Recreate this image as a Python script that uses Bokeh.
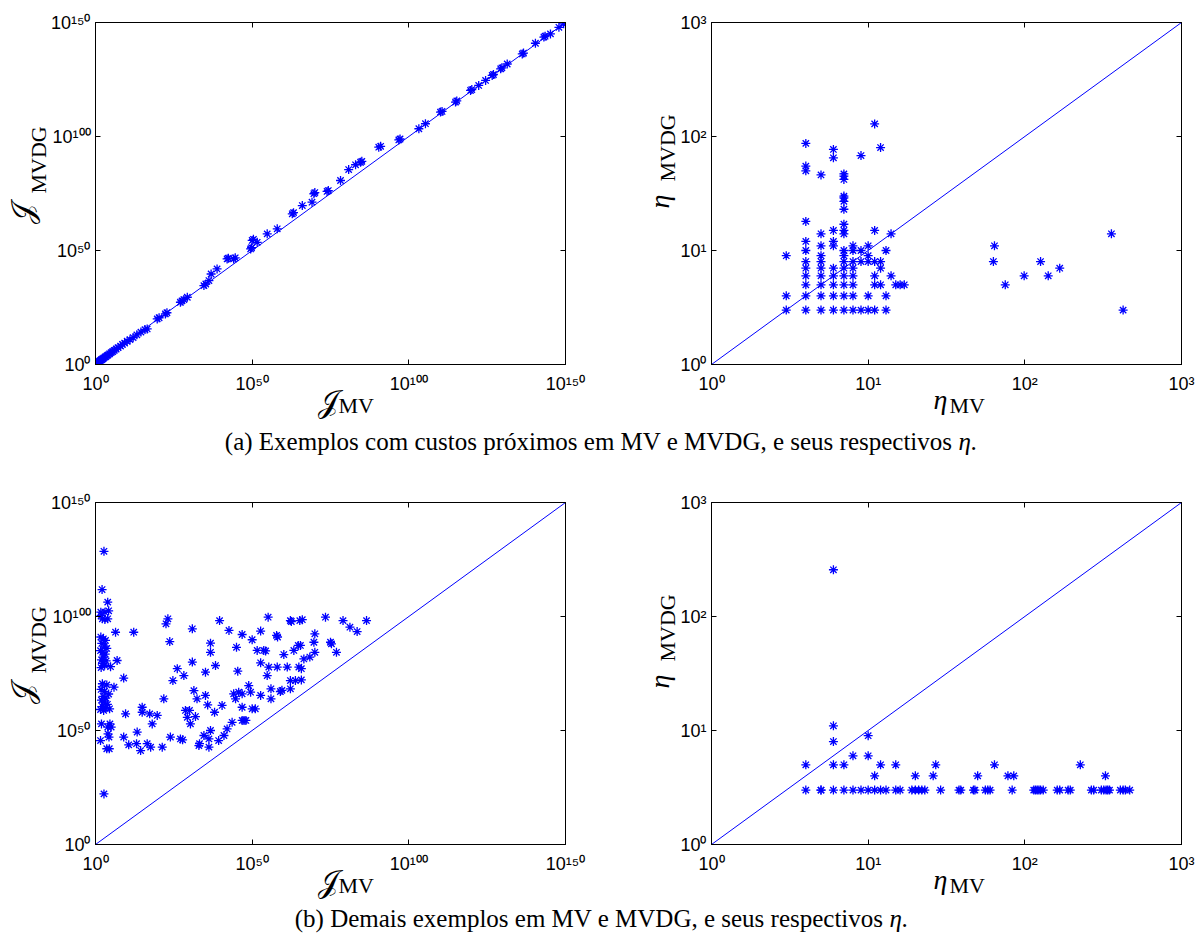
import math
from bokeh.plotting import figure
from bokeh.models import Range1d, FixedTicker, LogAxis, GridBox, CustomLabelingPolicy
from bokeh.layouts import column, row
from bokeh.core.properties import value
from bokeh.embed import file_html
from bokeh.resources import INLINE

# ---------------- data (log10 exponents for the cost panels) ----------------
# (a) left: J_MV vs J_MVDG (log10 values)
a_cost_mv_exp = [0.2, 0.4, 0.6, 0.8, 1.0, 1.3, 1.5, 1.8, 2.0, 2.3, 2.6, 3.0, 3.3, 3.7, 4.0, 4.5,
                 5.0, 5.5, 6.0, 6.6, 7.2, 8.0, 8.6, 9.3, 10.1, 11.0, 12.0, 13.2, 14.5, 15.8, 16.5,
                 19.7, 20.3, 22.3, 22.8, 27.1, 27.6, 28.2, 29.3, 34.6, 35.2, 36.2, 36.9, 38.8,
                 42.0, 42.4, 44.1, 44.6, 49.5, 49.8, 50.0, 50.4, 51.6, 54.8, 58.0, 62.8, 63.2,
                 66.0, 69.1, 69.7, 70.0, 73.9, 74.3, 78.2, 80.8, 83.0, 84.6, 85.0, 90.4, 91.0,
                 96.8, 97.2, 103.2, 105.3, 110.1, 110.6, 114.9, 115.3, 119.7, 120.1, 122.3,
                 124.5, 126.6, 127.0, 129.3, 129.7, 131.4, 136.2, 136.6, 140.4, 143.1, 143.5,
                 145.2, 147.9, 149.4]
a_cost_mvdg_exp = [0.3, 0.5, 0.7, 1.0, 1.2, 1.4, 1.7, 2.0, 2.2, 2.5, 2.8, 3.2, 3.5, 3.9, 4.2, 4.7,
                   5.2, 5.7, 6.2, 6.8, 7.4, 8.1, 8.8, 9.4, 10.2, 10.9, 11.8, 13.0, 14.2, 15.3, 15.6,
                   20.0, 20.5, 22.2, 22.7, 27.3, 27.9, 28.5, 29.5, 34.6, 35.3, 36.8, 39.7, 41.9,
                   46.3, 46.6, 46.3, 46.8, 50.7, 51.2, 54.4, 54.9, 53.6, 57.3, 59.5, 66.1, 66.6,
                   69.7, 71.2, 74.9, 75.4, 75.9, 76.3, 80.7, 85.5, 87.6, 88.7, 89.1, 95.3, 95.7,
                   98.5, 98.9, 103.4, 105.6, 110.7, 111.0, 115.1, 115.6, 120.2, 120.6, 122.4,
                   124.6, 126.8, 127.2, 129.7, 130.1, 131.8, 136.2, 136.6, 140.9, 143.6, 144.0,
                   145.0, 147.9, 149.4]

# (a) right: eta_MV vs eta_MVDG
a_eta_mv = [3, 3, 3,
            4, 4, 4, 4, 4, 4, 4, 4, 4, 4, 4, 4,
            5, 5, 5, 5, 5, 5, 5, 5, 5, 5,
            6, 6, 6, 6, 6, 6, 6, 6, 6, 6,
            7, 7, 7, 7, 7, 7, 7, 7, 7, 7, 7, 7, 7, 7, 7, 7, 7, 7,
            8, 8, 8, 8, 8, 8, 8, 8,
            9, 9, 9, 9,
            10, 10, 10, 10, 10,
            11, 11, 11, 11, 11, 11,
            12, 12, 12, 12,
            13, 13, 13,
            14, 14,
            15, 16, 17,
            63, 64, 75, 99, 126, 141, 167, 357, 424]
a_eta_mvdg = [3, 4, 9,
              3, 4, 5, 6, 7, 8, 10, 12, 18, 50, 55, 87,
              3, 4, 5, 6, 7, 8, 9, 11, 14, 46,
              3, 4, 5, 6, 7, 11, 12, 15, 65, 77,
              3, 4, 5, 6, 7, 8, 9, 10, 14, 15, 17, 23, 27, 29, 30, 42, 45, 47,
              3, 4, 5, 6, 7, 8, 10, 11,
              3, 8, 10, 68,
              3, 4, 8, 9, 11,
              3, 5, 6, 8, 15, 129,
              5, 7, 8, 80,
              3, 4, 10,
              6, 14,
              5, 5, 5,
              8, 11, 5, 6, 8, 6, 7, 14, 3]

# (b) left: J_MV vs J_MVDG (log10 values)
b_cost_mv_exp = [2.7, 2.1, 3.9, 1.7, 3.0, 4.2, 1.8, 2.2, 3.0, 3.9, 6.4,
                 1.7, 2.5, 3.2, 2.0, 2.8, 3.6, 1.6, 2.3, 3.1, 2.6, 1.9, 3.4, 2.2, 2.9, 4.8, 6.9, 1.8,
                 2.2, 3.6, 5.9, 1.8, 2.9, 4.2, 2.4, 3.3, 1.9, 2.8, 3.8, 2.2, 3.2, 1.6, 4.5, 2.6,
                 1.9, 4.6, 3.9, 5.0, 4.3, 1.6, 4.0, 3.6, 4.4, 2.7,
                 9.0, 9.6, 9.0, 10.6, 12.2, 13.3, 13.1, 14.4, 14.9, 14.9, 16.5, 17.6, 17.3, 18.1,
                 19.7, 21.3, 21.8, 22.5, 23.1, 23.7, 23.9, 24.7, 26.1, 27.1, 27.8, 28.2, 28.7,
                 29.3, 30.0, 30.3, 30.9, 30.9, 31.4, 31.9, 32.4, 33.0, 33.2, 34.6, 35.1, 35.1,
                 35.8, 36.2, 36.2, 36.7, 36.7, 36.7, 38.0, 38.3, 39.3, 39.6, 40.4, 41.0, 42.0,
                 42.6, 43.6, 44.1, 44.7, 45.0, 45.4, 45.7, 46.8, 46.8, 46.8, 46.8, 47.4, 48.0,
                 48.9, 49.5, 50.0, 50.0, 51.0, 51.6, 52.7, 52.7, 52.7, 53.7, 54.3, 54.8, 55.1,
                 55.3, 56.0, 56.0, 57.8, 58.1, 58.0, 59.0, 59.5, 60.1, 61.2, 62.2, 62.2, 62.2,
                 62.5, 63.3, 63.8, 64.7, 64.9, 65.2,
                 66.0, 65.4, 65.7, 65.7, 66.5, 68.4, 70.0, 69.7, 70.0, 73.4, 75.0, 75.3, 76.9,
                 79.0, 81.2, 83.5, 86.5]
b_cost_mvdg_exp = [128.6, 111.8, 106.3, 101.9, 101.9, 102.5, 100.4, 99.0, 98.7, 99.0, 93.1,
                   91.0, 90.2, 89.5, 88.2, 87.0, 86.0, 85.0, 84.3, 83.5, 82.2, 81.0, 80.5, 79.4,
                   78.6, 78.0, 80.7, 77.6,
                   70.5, 70.0, 69.0, 68.0, 67.2, 66.0, 65.0, 64.2, 63.3, 62.5, 61.5, 60.5, 59.8,
                   59.2, 59.5, 58.8,
                   52.9, 52.9, 51.5, 51.5, 47.1, 45.6, 48.5, 42.0, 42.0, 22.2,
                   73.0, 57.3, 47.1, 43.7, 93.1, 49.3, 44.2, 41.2, 60.2, 58.0, 44.2, 42.7, 57.3,
                   52.9, 56.6, 42.7, 63.9, 96.8, 99.0, 89.0, 47.1, 71.9, 77.1, 46.3, 45.9, 74.1,
                   58.8, 55.8, 58.8, 52.9, 80.0, 94.6, 67.5, 56.1, 63.9, 43.4, 44.2, 47.8, 65.4,
                   75.6, 61.2, 42.7, 46.3, 88.3, 84.3, 50.0, 58.0, 78.5, 45.6, 98.2, 61.0, 47.8,
                   50.7, 93.9, 53.6, 66.1, 63.9, 86.5, 76.0, 66.8, 92.1, 60.2, 66.1, 54.4, 54.4,
                   54.4, 69.7, 66.8, 59.5, 89.8, 59.5, 85.1, 65.4, 79.7, 93.6, 85.1, 84.9, 74.1,
                   99.7, 77.8, 68.3, 63.9, 91.7, 91.0, 77.8, 67.1, 67.6, 83.3, 77.8, 71.9, 68.3,
                   98.2, 97.8, 85.1, 71.9, 87.3, 77.8, 98.2,
                   98.6, 87.3, 77.1, 72.2, 81.4, 82.2, 92.4, 88.7, 84.3, 99.7, 88.7, 88.0, 84.3,
                   98.2, 95.3, 93.4, 98.2]

# (b) right: eta_MV vs eta_MVDG
b_eta_mv = [6, 6, 6, 6, 4, 7, 8, 10, 10, 11, 12, 15,
            4, 5, 5, 6, 7, 8, 9, 10, 11, 12, 13, 15, 16, 19, 20, 21, 22, 23, 29, 38, 39, 47, 48,
            56, 58, 60, 83, 114, 117, 120, 123, 126, 131, 161, 167, 189, 195, 266, 275, 308,
            319, 330, 338, 347, 407, 424, 438, 467,
            20, 26, 50, 78, 85, 327,
            27, 64, 226]
b_eta_mvdg = [257, 11, 8, 5, 5, 5, 6, 9, 6, 4, 5, 5,
              3, 3, 3, 3, 3, 3, 3, 3, 3, 3, 3, 3, 3, 3, 3, 3, 3, 3, 3, 3, 3, 3, 3,
              3, 3, 3, 3, 3, 3, 3, 3, 3, 3, 3, 3, 3, 3, 3, 3, 3,
              3, 3, 3, 3, 3, 3, 3, 3,
              4, 4, 4, 4, 4, 4,
              5, 5, 5]

# axis limits / ticks / identity lines
cost_ticks = [1e0, 1e50, 1e100, 1e150]
cost_tick_labels = ["10\u2070", "10\u2075\u2070", "10\u00b9\u2070\u2070", "10\u00b9\u2075\u2070"]
eta_ticks = [1e0, 1e1, 1e2, 1e3]
eta_tick_labels = ["10\u2070", "10\u00b9", "10\u00b2", "10\u00b3"]
cost_diag = [1e0, 1e150]
eta_diag = [1e0, 1e3]

caption_a_text = "(a) Exemplos com custos próximos em MV e MVDG, e seus respectivos"
caption_b_text = "(b) Demais exemplos em MV e MVDG, e seus respectivos"
eta_sym = "η"
cost_sym = "\U0001D4A5"
sub_x = "MV"
sub_y = "MVDG"

# ---------------- styling ----------------
W, H = 1204, 938
BLUE = "#0000ff"
FH = 342
TICK_FONT = "Liberation Sans"
MATH_FONT = "Liberation Serif"


def style_axis(ax, ticks, labels, show_labels=True, standoff=5):
    ax.ticker = FixedTicker(ticks=ticks, minor_ticks=[])
    ax.major_tick_in = 5
    ax.major_tick_out = 0
    ax.major_tick_line_color = "black"
    ax.minor_tick_line_color = None
    ax.axis_line_color = "black"
    ax.axis_line_width = 1
    ax.major_label_text_font = TICK_FONT
    ax.major_label_text_color = "black"
    if show_labels:
        ax.major_label_text_font_size = "18px"
        ax.major_label_overrides = {t: l for t, l in zip(ticks, labels)}
        ax.major_label_standoff = standoff
    else:
        ax.major_label_text_font_size = "1px"
        ax.major_label_policy = CustomLabelingPolicy(code="return new Set()")
        ax.major_label_standoff = 0


def make_panel(width, height, left, right, top, ticks, labels, xs, ys, diag):
    p = figure(width=width, height=height, x_axis_type="log", y_axis_type="log",
               x_range=Range1d(diag[0], diag[1]), y_range=Range1d(diag[0], diag[1]),
               output_backend="svg", toolbar_location=None,
               min_border_left=left, min_border_right=right, min_border_top=top,
               min_border_bottom=height - top - FH)
    p.grid.visible = False
    p.outline_line_color = "black"
    p.background_fill_color = "white"
    p.border_fill_color = "white"
    style_axis(p.xaxis[0], ticks, labels, standoff=9)
    style_axis(p.yaxis[0], ticks, labels, standoff=5)
    ax_top = LogAxis()
    style_axis(ax_top, ticks, labels, show_labels=False)
    p.add_layout(ax_top, "above")
    ax_right = LogAxis()
    style_axis(ax_right, ticks, labels, show_labels=False)
    p.add_layout(ax_right, "right")
    p.line(diag, diag, line_color=BLUE, line_width=1)
    p.scatter(xs, ys, marker="asterisk", size=9, line_color=BLUE, line_width=1.3)
    return p


def exp10(v):
    return [10.0 ** e for e in v]


TOP_H = 458
BOT_H = 480
TOP_T = 22
BOT_T = 44

pa1 = make_panel(602, TOP_H, 95, 37, TOP_T, cost_ticks, cost_tick_labels,
                 exp10(a_cost_mv_exp), exp10(a_cost_mvdg_exp), cost_diag)
pa2 = make_panel(602, TOP_H, 109, 23, TOP_T, eta_ticks, eta_tick_labels,
                 a_eta_mv, a_eta_mvdg, eta_diag)
pb1 = make_panel(602, BOT_H, 95, 37, BOT_T, cost_ticks, cost_tick_labels,
                 exp10(b_cost_mv_exp), exp10(b_cost_mvdg_exp), cost_diag)
pb2 = make_panel(602, BOT_H, 109, 23, BOT_T, eta_ticks, eta_tick_labels,
                 b_eta_mv, b_eta_mvdg, eta_diag)

panels = column(row(pa1, pa2, spacing=0), row(pb1, pb2, spacing=0), spacing=0)

# ---------------- transparent text overlay (axis titles with subscripts, captions) ----------------
ov = figure(width=W, height=H, x_range=Range1d(0, W), y_range=Range1d(0, H),
            output_backend="svg", toolbar_location=None, min_border=0,
            x_axis_location=None, y_axis_location=None)
ov.outline_line_color = None
ov.background_fill_alpha = 0
ov.border_fill_alpha = 0
ov.grid.visible = False


def txt(x, y, s, size, style="normal", angle=0.0, align="left"):
    # y is measured from the top of the page; anchor is the vertical middle of the text
    ov.text(x=[x], y=[H - y], text=[s], text_font=value(MATH_FONT), text_font_size=value(size),
            text_font_style=value(style), text_color="black", text_align=value(align),
            text_baseline=value("middle"), angle=angle)


for dy in (0, 480):
    # left panels: J
    txt(317, 401 + dy, cost_sym, "30px")
    txt(338, 405 + dy, sub_x, "22px")
    txt(22, 223 + dy, cost_sym, "30px", angle=math.pi / 2)
    txt(38, 193 + dy, sub_y, "22px", angle=math.pi / 2)
    # right panels: eta
    txt(933, 399 + dy, eta_sym, "28px", style="italic")
    txt(949, 405 + dy, sub_x, "22px")
    txt(659, 208 + dy, eta_sym, "28px", style="italic", angle=math.pi / 2)
    txt(667, 181 + dy, sub_y, "22px", angle=math.pi / 2)

# captions
txt(952, 441, caption_a_text, "25px", align="right")
txt(958, 441, eta_sym, "25px", style="italic")
txt(970, 441, ".", "25px")
txt(883, 918, caption_b_text, "25px", align="right")
txt(889, 918, eta_sym, "25px", style="italic")
txt(901, 918, ".", "25px")

layout = GridBox(children=[(panels, 0, 0), (ov, 0, 0)])

open("out.html", "w").write(file_html(layout, INLINE))
